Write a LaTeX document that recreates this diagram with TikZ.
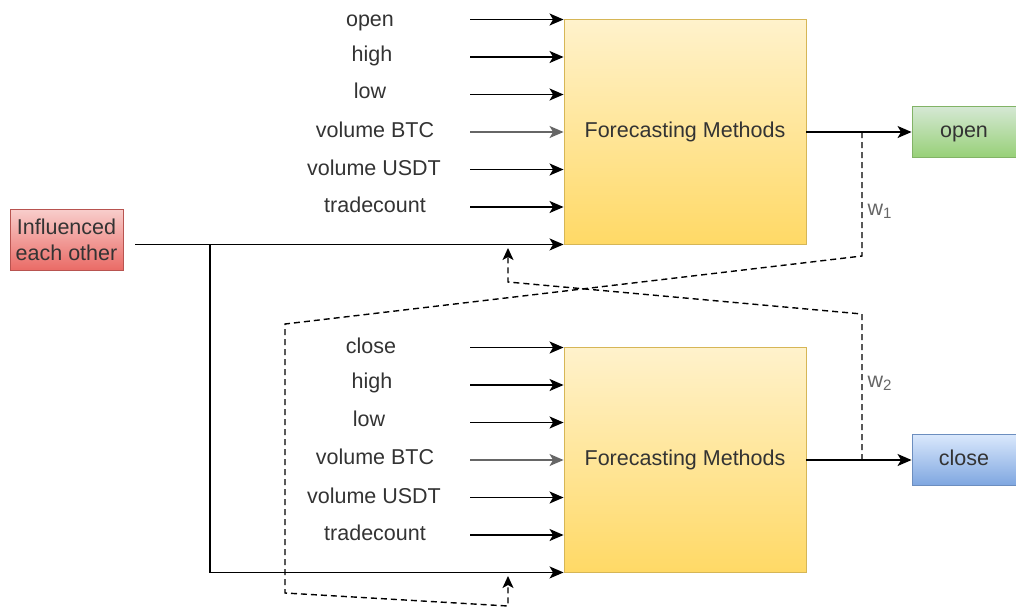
\documentclass[tikz,border=0pt]{standalone}
\usepackage{fontspec}
\setmainfont{Liberation Sans}
\usetikzlibrary{arrows.meta,calc}
\definecolor{methodTop}{HTML}{FFF2CC}
\definecolor{methodBot}{HTML}{FFD966}
\definecolor{methodLine}{HTML}{D6B656}
\definecolor{openTop}{HTML}{D5E8D4}
\definecolor{openBot}{HTML}{97D077}
\definecolor{openLine}{HTML}{82B366}
\definecolor{closeTop}{HTML}{DAE8FC}
\definecolor{closeBot}{HTML}{7EA6E0}
\definecolor{closeLine}{HTML}{6C8EBF}
\definecolor{inflTop}{HTML}{F8CECC}
\definecolor{inflBot}{HTML}{EA6B66}
\definecolor{inflLine}{HTML}{B85450}
\definecolor{labelText}{HTML}{333333}
\tikzset{
    method/.style = {
        draw = methodLine,
        line width = 0.9pt,
        top color = methodTop,
        bottom color = methodBot,
        minimum width = 242pt,
        minimum height = 225pt,
        text = labelText,
        },
    target/.style = {
        line width = 0.9pt,
        minimum width = 104pt,
        minimum height = 51pt,
        text height = 15pt,
        text depth = 5pt,
        text = labelText,
        },
    feature/.style = {
        text = labelText,
        anchor = base,
        inner sep = 0pt,
        },
    feed/.style = {
        line width = 1.5pt,
        -{Stealth[length=14pt, width=12pt, inset=3.5pt]},
        },
    weight link/.style = {
        line width = 1.4pt,
        dash pattern = on 6pt off 4pt,
        },
    weight label/.style = {
        text = black!60,
        anchor = west,
        },
}
\begin{document}
\begin{tikzpicture}[x=1pt, y=-1pt, font=\fontsize{21.5}{26}\selectfont]
    \useasboundingbox (0,0) rectangle (1016,608);

    % forecasting blocks
    \node [method] (top) at (685,131.5) {Forecasting Methods};
    \node [method] (bot) at (685,459.5) {Forecasting Methods};

    % outputs
    \node [target, draw=openLine, top color=openTop, bottom color=openBot] (open) at (964,132) {open};
    \node [target, draw=closeLine, top color=closeTop, bottom color=closeBot] (close) at (964,460) {close};

    % shared input
    \node [draw=inflLine, line width=0.9pt, top color=inflTop, bottom color=inflBot,
           text=labelText, align=center, inner sep=2pt, minimum width=113pt, minimum height=61pt,
           font=\fontsize{21.5}{26}\selectfont] (infl) at (66.5,239.5) {Influenced\\each other};

    % features of the upper block
    \node [feature] (open1) at (370,26) {open};
    \node [feature] (high1) at (372,61) {high};
    \node [feature] (low1) at (370,98) {low};
    \node [feature] (vbtc1) at (375,137) {volume BTC};
    \node [feature] (vusdt1) at (374,175) {volume USDT};
    \node [feature] (trade1) at (375,212) {tradecount};

    \coordinate (a1) at (470,19.5);
    \coordinate (a2) at (470,57);
    \coordinate (a3) at (470,94.5);
    \coordinate (a4) at (470,132);
    \coordinate (a5) at (470,169.5);
    \coordinate (a6) at (470,207);
    \draw [feed] (a1) -- (a1 -| top.west);
    \draw [feed] (a2) -- (a2 -| top.west);
    \draw [feed] (a3) -- (a3 -| top.west);
    \draw [feed, draw=black!60] (a4) -- (a4 -| top.west);
    \draw [feed] (a5) -- (a5 -| top.west);
    \draw [feed] (a6) -- (a6 -| top.west);

    % features of the lower block
    \node [feature] (close2) at (371,353) {close};
    \node [feature] (high2) at (372,388) {high};
    \node [feature] (low2) at (369,426) {low};
    \node [feature] (vbtc2) at (375,464) {volume BTC};
    \node [feature] (vusdt2) at (374,503) {volume USDT};
    \node [feature] (trade2) at (375,540) {tradecount};

    \coordinate (b1) at (470,347.5);
    \coordinate (b2) at (470,385);
    \coordinate (b3) at (470,422.5);
    \coordinate (b4) at (470,460);
    \coordinate (b5) at (470,497.5);
    \coordinate (b6) at (470,535);
    \draw [feed] (b1) -- (b1 -| bot.west);
    \draw [feed] (b2) -- (b2 -| bot.west);
    \draw [feed] (b3) -- (b3 -| bot.west);
    \draw [feed, draw=black!60] (b4) -- (b4 -| bot.west);
    \draw [feed] (b5) -- (b5 -| bot.west);
    \draw [feed] (b6) -- (b6 -| bot.west);

    % influence line and its branch
    \coordinate (split) at (210,244);
    \draw [feed, shorten <=12pt] (infl.east |- top.south west) -- (top.south west);
    \draw [feed] (split) |- (bot.south west);

    % outputs
    \draw [feed] (top.east |- open.west) -- (open.west);
    \draw [feed] (bot.east |- close.west) -- (close.west);

    % weights fed back
    \coordinate (w1) at (862,132);
    \coordinate (w2) at (862,460);
    \coordinate (in2) at (508,576);
    \coordinate (in1) at (508,248);
    \draw [weight link, -{Stealth[length=12pt, width=11pt, inset=3pt]}]
        (w1) -- (862,256) -- (285,324) -- (285,593) -- (508,606) -- (in2);
    \draw [weight link, -{Stealth[length=12pt, width=11pt, inset=3pt]}]
        (w2) -- (862,314) -- (508,282) -- (in1);
    \node [weight label] (w1lab) at (864,211) {w\textsubscript{1}};
    \node [weight label] (w2lab) at (864,383) {w\textsubscript{2}};
\end{tikzpicture}
\end{document}
